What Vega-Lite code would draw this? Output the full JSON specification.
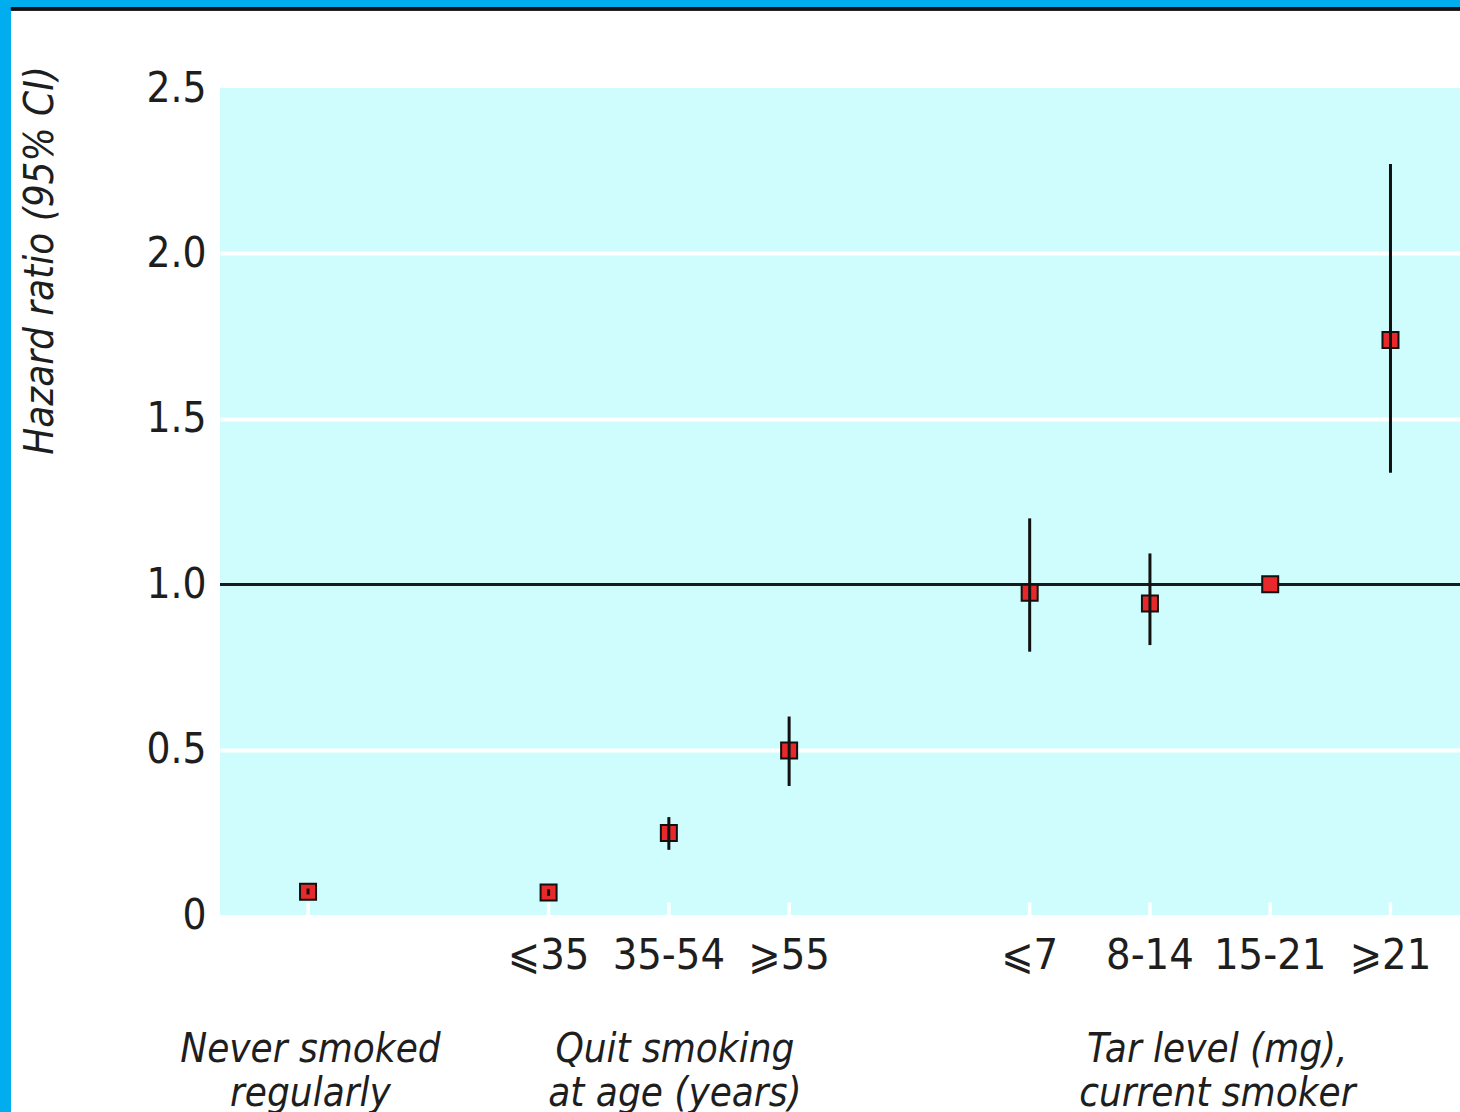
{
  "$schema": "https://vega.github.io/schema/vega-lite/v6.json",
  "width": 1240,
  "height": 827,
  "autosize": {"type": "none"},
  "padding": {"left": 220, "top": 88, "right": 0, "bottom": 197},
  "background": "white",
  "config": {
    "view": {"fill": "#cffcfd", "stroke": null},
    "font": "DejaVu Sans Condensed, Liberation Sans Narrow, Liberation Sans, sans-serif"
  },
  "datasets": {
    "points": [
      {"group": "Never smoked regularly", "label": "", "pos": 0, "hr": 0.07, "lo": 0.062, "hi": 0.08},
      {"group": "Quit smoking at age (years)", "label": "⩽35", "pos": 2, "hr": 0.068, "lo": 0.058, "hi": 0.078},
      {"group": "Quit smoking at age (years)", "label": "35-54", "pos": 3, "hr": 0.248, "lo": 0.197, "hi": 0.296},
      {"group": "Quit smoking at age (years)", "label": "⩾55", "pos": 4, "hr": 0.497, "lo": 0.39, "hi": 0.6},
      {"group": "Tar level (mg), current smoker", "label": "⩽7", "pos": 6, "hr": 0.974, "lo": 0.796, "hi": 1.199},
      {"group": "Tar level (mg), current smoker", "label": "8-14", "pos": 7, "hr": 0.942, "lo": 0.816, "hi": 1.093},
      {"group": "Tar level (mg), current smoker", "label": "15-21", "pos": 8, "hr": 1.0, "lo": null, "hi": null},
      {"group": "Tar level (mg), current smoker", "label": "⩾21", "pos": 9, "hr": 1.738, "lo": 1.337, "hi": 2.27}
    ],
    "groups": [
      {"text": "Never smoked\nregularly", "pos": 0.02},
      {"text": "Quit smoking\nat age (years)", "pos": 3.05},
      {"text": "Tar level (mg),\ncurrent smoker", "pos": 7.56}
    ]
  },
  "data": {"name": "points"},
  "layer": [
    {
      "mark": {"type": "rect", "color": "#00aeef"},
      "encoding": {
        "x": {"datum": -2.6, "type": "quantitative", "scale": {"domain": [-0.732, 9.578], "nice": false, "zero": false}, "axis": null},
        "x2": {"datum": -2.47},
        "y": {"datum": 2.8, "type": "quantitative", "scale": {"domain": [0, 2.5], "nice": false, "zero": false},
          "axis": {
            "values": [0, 0.5, 1, 1.5, 2, 2.5],
            "labelExpr": "datum.value == 0 ? '0' : format(datum.value, '.1f')",
            "labelFontSize": 42,
            "labelColor": "#1e1e1e",
            "labelPadding": 14,
            "ticks": false,
            "domain": false,
            "grid": true,
            "gridColor": {"condition": {"test": "datum.value == 0 || datum.value == 2.5 || datum.value == 1", "value": "transparent"}, "value": "white"},
            "gridWidth": 4,
            "title": "Hazard ratio (95% CI)",
            "titleFontSize": 40,
            "titleFontWeight": "normal",
            "titleFontStyle": "italic",
            "titleColor": "#1e1e1e",
            "titleAngle": -90,
            "titleX": -160,
            "titleY": 172,
            "titleAlign": "center",
            "titleBaseline": "bottom"
          }
        },
        "y2": {"datum": -0.6}
      }
    },
    {
      "mark": {"type": "rect", "color": "#00aeef"},
      "encoding": {
        "x": {"datum": -2.6, "type": "quantitative"},
        "x2": {"datum": 9.6},
        "y": {"datum": 2.8, "type": "quantitative"},
        "y2": {"datum": 2.745}
      }
    },
    {
      "mark": {"type": "rect", "color": "#111111"},
      "encoding": {
        "x": {"datum": -2.47, "type": "quantitative"},
        "x2": {"datum": 9.6},
        "y": {"datum": 2.745, "type": "quantitative"},
        "y2": {"datum": 2.735}
      }
    },
    {
      "mark": {"type": "rule", "color": "#1a1a1a", "strokeWidth": 2.5},
      "encoding": {
        "y": {"datum": 1, "type": "quantitative"}
      }
    },
    {
      "mark": {"type": "rule", "color": "white", "strokeWidth": 3.5},
      "encoding": {
        "x": {"field": "pos", "type": "quantitative"},
        "y": {"datum": 0, "type": "quantitative"},
        "y2": {"datum": 0.038}
      }
    },
    {
      "mark": {"type": "point", "shape": "square", "filled": true, "size": 256, "fill": "#e8292b", "stroke": "#111111", "strokeWidth": 2, "opacity": 1},
      "encoding": {
        "x": {"field": "pos", "type": "quantitative"},
        "y": {"field": "hr", "type": "quantitative"}
      }
    },
    {
      "transform": [{"filter": "datum.lo != null"}],
      "mark": {"type": "rule", "color": "#111111", "strokeWidth": 3},
      "encoding": {
        "x": {"field": "pos", "type": "quantitative"},
        "y": {"field": "lo", "type": "quantitative"},
        "y2": {"field": "hi"}
      }
    },
    {
      "mark": {"type": "text", "fontSize": 43, "color": "#1e1e1e", "align": "center", "baseline": "alphabetic"},
      "encoding": {
        "x": {"field": "pos", "type": "quantitative"},
        "y": {"datum": -0.163, "type": "quantitative"},
        "text": {"field": "label"}
      }
    },
    {
      "data": {"name": "groups"},
      "mark": {"type": "text", "fontSize": 40, "fontStyle": "italic", "color": "#1e1e1e", "align": "center", "baseline": "alphabetic", "lineBreak": "\n", "lineHeight": 44},
      "encoding": {
        "x": {"field": "pos", "type": "quantitative"},
        "y": {"datum": -0.444, "type": "quantitative"},
        "text": {"field": "text"}
      }
    }
  ]
}
